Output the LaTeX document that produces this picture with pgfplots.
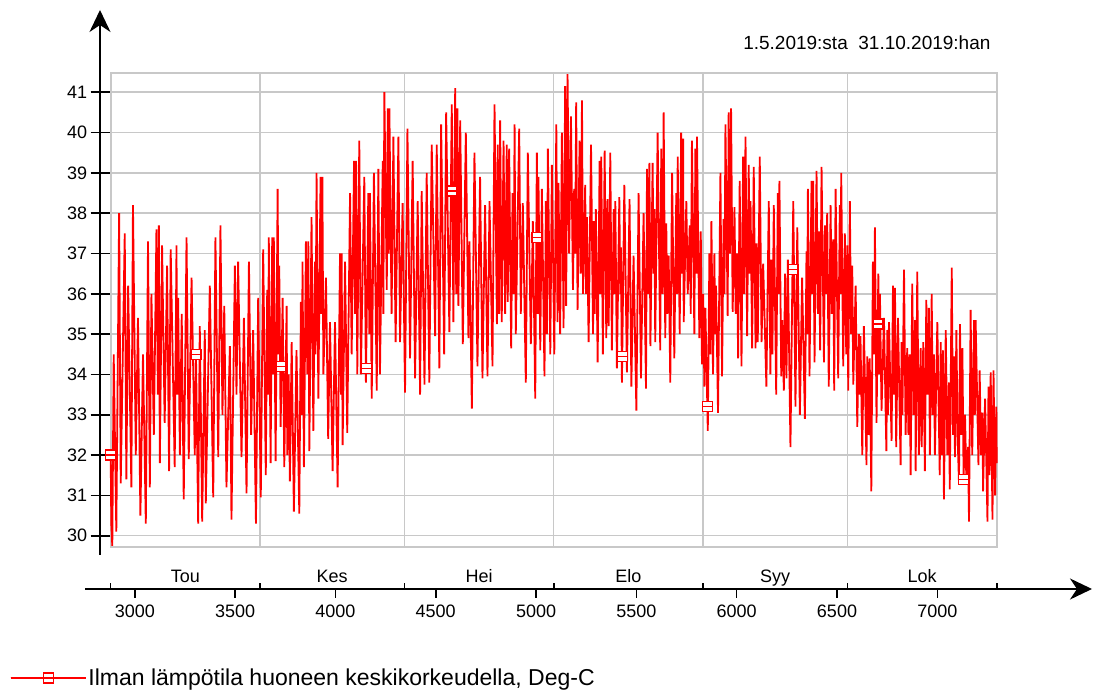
\documentclass[border=0pt]{standalone}
\usepackage{pgfplots}
\pgfplotsset{compat=1.18}
\usepackage{fontspec}
\setmainfont{Liberation Sans}
\usetikzlibrary{arrows.meta}
\definecolor{gridgray}{RGB}{200,200,200}
\newcommand{\tickfont}{\fontsize{18}{21}\selectfont}
\begin{document}
\begin{tikzpicture}[x=1pt,y=1pt]
\useasboundingbox (0,0) rectangle (1095,693);
\begin{axis}[
  at={(110.7pt,146pt)}, anchor=south west,
  scale only axis, width=886pt, height=473.7pt,
  xmin=2880, xmax=7296, ymin=29.72, ymax=41.47,
  clip=false,
  axis line style={gridgray, line width=1.8pt},
  ytick={30,31,32,33,34,35,36,37,38,39,40,41},
  ymajorgrids,
  major grid style={gridgray, line width=1.5pt},
  tick align=outside,
  major tick length=20pt,
  ytick pos=left, xtick pos=bottom,
  ytick style={black, line width=1.6pt},
  xtick={3000,3500,4000,4500,5000,5500,6000,6500,7000},
  xticklabels={3000,3500,4000,4500,5000,5500,6000,6500,7000},
  xtick style={draw=none},
  extra x ticks={3624,4344,5088,5832,6552},
  extra x tick labels={},
  extra x tick style={grid=major, tick style={draw=none}},
  tick label style={font=\tickfont, text=black},
  /pgf/number format/assume math mode=true,
  /pgf/number format/1000 sep={},
  xticklabel style={yshift=-34.5pt},
  legend style={at={(axis description cs:-0.1137,-0.2765)}, anchor=west,
    draw=none, fill=none, inner sep=0pt, outer sep=0pt,
    font=\fontsize{23}{27}\selectfont},
  legend image code/.code={
    \draw[red, line width=1.5pt] (0pt,0pt) -- (75pt,0pt);
    \draw[red, line width=1.5pt, mark=square*, mark size=5pt, mark options={solid, fill=white}, mark repeat=2, mark phase=2] plot coordinates {(0pt,0pt) (38pt,0pt) (75pt,0pt)};
    \draw[red, line width=1.5pt, mark=-, mark size=5pt, mark options={solid}, mark repeat=2, mark phase=2] plot coordinates {(0pt,0pt) (38pt,0pt) (75pt,0pt)};
  },
]
\addplot[red, line width=1.8pt, line join=miter] coordinates {
(2880,32.0) (2883,30.3) (2888,29.75) (2895,34.5) (2908,30.1) (2922,38.0) (2930,31.3) (2950,37.5) (2958,31.4) (2967,36.2) (2983,31.2) (2991,38.2) (3005,32.0) (3016,35.4) (3028,30.5) (3041,34.5) (3055,30.3) (3066,37.3) (3075,31.2) (3083,36.0) (3095,32.5) (3108,37.6) (3115,33.5) (3120,37.7) (3125,31.8) (3136,37.2) (3149,32.8) (3161,36.7) (3171,31.6) (3179,37.1) (3199,31.7) (3208,37.2) (3211,33.5) (3216,35.9) (3225,32.0) (3234,35.5) (3244,30.9) (3258,37.4) (3269,31.9) (3283,36.4) (3299,32.0) (3305,34.5) (3316,30.3) (3324,35.2) (3336,30.35) (3349,35.1) (3354,30.8) (3374,36.2) (3391,30.95) (3402,37.4) (3416,31.95) (3427,37.7) (3437,33.0) (3446,35.7) (3457,31.2) (3474,34.7) (3482,30.4) (3499,36.7) (3507,33.5) (3515,36.8) (3532,31.95) (3544,35.4) (3557,31.05) (3569,36.8) (3580,32.5) (3590,35.1)
(3604,30.3) (3615,35.9) (3628,30.95) (3640,37.1) (3653,31.5) (3660,36.1) (3665,33.5) (3668,37.4) (3677,31.8) (3685,37.4) (3690,34.0) (3693,37.4) (3702,31.85) (3712,38.6) (3717,34.5) (3720,36.7) (3727,32.7) (3737,35.9) (3745,31.7) (3757,35.7) (3760,32.0) (3767,34.0) (3773,31.35) (3782,34.8) (3793,30.6) (3806,34.6) (3820,30.55) (3828,35.8) (3833,33.0) (3836,36.8) (3843,31.7) (3853,37.3) (3860,34.0) (3865,37.3) (3870,32.1) (3881,37.9) (3890,32.6) (3898,36.8) (3901,34.5) (3906,39.0) (3915,33.4) (3926,38.9) (3930,35.5) (3935,38.9) (3940,34.0) (3953,36.4) (3964,32.4) (3973,35.3) (3986,31.6) (3998,35.3) (4011,31.2) (4023,37.0) (4028,33.5) (4031,37.0) (4036,32.25) (4048,36.8) (4059,32.55) (4073,38.5) (4081,34.5) (4093,39.3) (4098,35.5) (4103,39.3) (4109,34.0) (4119,39.8) (4127,34.0) (4144,38.9) (4152,33.8) (4164,38.5) (4169,35.0) (4172,38.5) (4181,33.4) (4192,39.0) (4206,33.6) (4214,39.1) (4222,34.0) (4236,39.3) (4239,35.5) (4244,41.0) (4256,36.1) (4261,40.6) (4266,37.0) (4269,40.6) (4280,35.5) (4289,39.9) (4300,34.8) (4314,39.9) (4322,34.8)
(4335,38.25) (4347,33.55) (4359,40.1) (4372,34.4) (4385,39.3) (4397,33.9) (4410,38.3) (4422,33.5) (4430,38.55) (4444,33.75) (4455,39.0) (4468,33.8) (4480,39.7) (4497,34.95) (4505,39.7) (4518,34.15) (4527,40.2) (4542,34.5) (4552,40.5) (4568,35.05) (4580,40.7) (4588,35.3) (4597,41.1) (4602,36.0) (4608,40.6) (4613,35.7) (4622,40.3) (4635,34.75) (4650,40.0) (4663,34.9) (4668,37.3) (4680,33.15) (4693,39.5) (4708,34.2) (4721,38.9) (4733,33.9) (4746,38.2) (4758,33.95) (4768,38.3) (4783,34.2) (4793,40.7) (4805,35.25) (4809,39.7) (4816,35.5) (4821,40.3) (4829,35.3) (4838,39.8) (4846,35.5) (4854,39.7) (4859,35.8) (4866,39.6) (4876,34.65) (4883,38.5) (4888,36.0) (4893,40.2) (4899,35.0) (4916,40.1) (4924,35.5) (4934,38.25) (4949,33.8) (4959,39.5) (4974,34.75) (4984,37.8) (4996,33.4) (5004,39.5) (5009,35.5) (5012,38.9) (5021,34.6) (5029,38.6) (5042,33.95) (5049,38.3) (5054,35.0) (5059,39.6) (5071,34.5)
(5079,39.2) (5091,34.5) (5101,40.2) (5107,35.3) (5112,38.75) (5120,35.0) (5129,40.0) (5137,35.15) (5145,41.15) (5150,35.7) (5157,41.45) (5165,37.0) (5174,40.4) (5184,36.1) (5190,38.6) (5195,37.0) (5200,40.75) (5207,35.6) (5217,39.8) (5222,36.5) (5229,40.8) (5234,36.0) (5245,38.7) (5249,36.0) (5254,37.9) (5262,34.8) (5274,39.7) (5284,35.0) (5288,37.8) (5292,35.5) (5298,38.1) (5307,34.3) (5317,39.3) (5320,36.0) (5325,39.4) (5333,34.5) (5342,39.55) (5350,34.9) (5356,38.35) (5362,35.2) (5370,39.5) (5378,34.6) (5387,38.1) (5392,36.0) (5395,38.3) (5403,34.15) (5415,38.4) (5420,36.0) (5423,37.15) (5428,33.8) (5440,38.7) (5453,34.05) (5466,38.35) (5475,33.7) (5486,36.95) (5500,33.1) (5511,38.5) (5523,33.9) (5536,38.0) (5548,33.65) (5553,39.1) (5560,36.0) (5565,39.25) (5570,34.7) (5581,39.25) (5586,36.5) (5590,38.1) (5594,34.8) (5606,40.0) (5619,34.6) (5624,39.6) (5631,36.0) (5636,40.5) (5644,34.9) (5649,37.75) (5654,35.5) (5661,36.95) (5669,33.8) (5678,39.0) (5689,34.4) (5699,38.5) (5703,36.0) (5706,39.4) (5716,35.0) (5723,40.0) (5728,36.5) (5733,39.85) (5736,35.3) (5749,38.3) (5756,36.0) (5766,37.7) (5771,35.5) (5777,39.8) (5789,35.0) (5794,39.6) (5799,36.5) (5802,39.9) (5814,34.9)
(5821,37.55) (5827,34.25) (5833,36.0) (5839,33.7) (5844,35.65) (5856,32.6) (5864,37.0) (5869,34.5) (5874,37.8) (5882,34.0) (5889,37.0) (5892,35.0) (5897,36.2) (5907,33.05) (5919,39.0) (5927,33.95) (5935,37.85) (5939,36.0) (5944,40.2) (5955,35.45) (5960,40.5) (5966,37.0) (5972,40.6) (5980,35.55) (5989,38.15) (5995,35.5) (6002,37.0) (6007,34.4) (6015,38.8) (6024,34.2) (6032,39.4) (6037,36.0) (6044,39.9) (6052,34.95) (6060,39.2) (6065,36.5) (6069,38.3) (6077,34.65) (6085,39.15) (6094,34.65) (6099,37.25) (6105,34.8) (6115,39.4) (6124,34.8) (6132,36.75) (6148,33.7) (6160,38.3) (6168,34.0) (6172,36.85) (6178,34.5) (6185,38.2) (6197,33.5) (6205,38.5) (6208,36.0) (6213,38.8) (6222,33.95) (6227,35.35) (6235,33.6) (6241,36.5) (6248,33.9) (6255,36.85) (6268,32.2) (6282,38.3) (6293,33.2) (6302,37.65) (6315,33.0) (6326,36.4) (6340,32.9) (6348,37.05) (6351,35.0) (6355,38.6) (6363,33.95) (6373,38.8) (6378,36.0) (6381,38.8) (6388,34.3) (6398,39.05) (6405,35.5) (6410,37.55) (6416,34.6) (6423,39.15) (6435,34.3) (6440,37.7) (6446,36.0) (6451,38.0) (6459,33.7) (6468,38.2) (6474,35.5) (6481,37.35) (6486,33.6) (6493,38.6) (6506,33.9) (6514,38.2) (6518,36.0) (6521,39.0) (6531,34.2) (6539,37.5)
(6546,34.5) (6551,37.2) (6556,33.6) (6564,38.3) (6570,35.0) (6576,36.7) (6581,33.75) (6593,36.2) (6601,32.7) (6609,35.0) (6613,33.5) (6617,34.95) (6626,32.0) (6634,35.2) (6647,31.75) (6651,34.45) (6657,32.5) (6663,34.4) (6671,31.1) (6679,36.8) (6684,34.5) (6689,37.65) (6697,32.8) (6706,36.5) (6709,34.0) (6714,36.0) (6722,33.1) (6734,35.4) (6746,32.1) (6751,35.1) (6754,33.0) (6759,35.3) (6772,32.35) (6779,36.2) (6784,33.5) (6789,36.15) (6795,32.2) (6804,35.4) (6817,31.75) (6822,34.8) (6826,33.0) (6834,36.6) (6842,32.5) (6850,34.65) (6856,32.5) (6862,34.5) (6867,31.5) (6875,36.25) (6882,33.0) (6889,35.35) (6892,31.6) (6900,36.55) (6908,32.0) (6917,34.65) (6922,32.2) (6930,34.8) (6938,31.6) (6945,35.85) (6951,33.5) (6958,35.65) (6963,32.0) (6972,36.0) (6977,33.0) (6983,34.5) (6988,32.0) (7000,35.3) (7012,31.5) (7017,34.8) (7022,32.0) (7028,34.6) (7033,30.9) (7042,35.1) (7050,32.0) (7058,33.8) (7062,31.15) (7072,36.65) (7078,32.5) (7083,34.45) (7088,31.95) (7095,35.1) (7101,32.5) (7108,31.3) (7113,35.25) (7119,32.5) (7125,34.65) (7131,31.4) (7138,33.0) (7145,31.3) (7153,32.2) (7158,30.35) (7166,35.6) (7174,32.0) (7183,35.35) (7187,33.0) (7191,35.35) (7205,31.75) (7211,34.1) (7218,32.0) (7225,33.05) (7228,31.1) (7238,33.4) (7250,30.35) (7255,33.7) (7260,31.5) (7266,34.05) (7275,30.4) (7280,34.1) (7288,31.0) (7294,33.2) (7296,31.8)
};
\addlegendentry{Ilman lämpötila huoneen keskikorkeudella, Deg-C}
\addplot[red, line width=1.5pt, only marks, mark=square*, mark size=5pt, mark options={fill=white}, forget plot] coordinates {
(2880,32.0) (3305,34.5) (3730,34.2) (4155,34.15) (4580,38.55) (5005,37.4) (5430,34.45) (5855,33.2) (6280,36.6) (6705,35.25) (7130,31.4)
};
\addplot[red, line width=1.5pt, only marks, mark=-, mark size=5pt, forget plot] coordinates {
(2880,32.0) (3305,34.5) (3730,34.2) (4155,34.15) (4580,38.55) (5005,37.4) (5430,34.45) (5855,33.2) (6280,36.6) (6705,35.25) (7130,31.4)
};
\pgfplotsinvokeforeach{2880,3624,4344,5088,5832,6552,7296}{
  \draw[black, line width=1.6pt] ([yshift=-42pt]axis cs:#1,29.72) -- ([yshift=-36pt]axis cs:#1,29.72);
}
\pgfplotsinvokeforeach{3000,3500,4000,4500,5000,5500,6000,6500,7000}{
  \draw[black, line width=1.6pt] ([yshift=-42pt]axis cs:#1,29.72) -- ([yshift=-51pt]axis cs:#1,29.72);
}
\node[font=\tickfont, anchor=base] at ([yshift=-36pt]axis cs:3252,29.72) {Tou};
\node[font=\tickfont, anchor=base] at ([yshift=-36pt]axis cs:3984,29.72) {Kes};
\node[font=\tickfont, anchor=base] at ([yshift=-36pt]axis cs:4716,29.72) {Hei};
\node[font=\tickfont, anchor=base] at ([yshift=-36pt]axis cs:5460,29.72) {Elo};
\node[font=\tickfont, anchor=base] at ([yshift=-36pt]axis cs:6192,29.72) {Syy};
\node[font=\tickfont, anchor=base] at ([yshift=-36pt]axis cs:6924,29.72) {Lok};
\end{axis}
\draw[black, line width=2pt, -{Stealth[length=22pt,width=21pt,inset=7pt]}] (100,138) -- (100,683);
\draw[black, line width=2pt, -{Stealth[length=22pt,width=21pt,inset=7pt]}] (85,104) -- (1092,104);
\node[anchor=east, font=\fontsize{19}{22}\selectfont] at (994,650) {1.5.2019:sta\ \ 31.10.2019:han};
\end{tikzpicture}
\end{document}
